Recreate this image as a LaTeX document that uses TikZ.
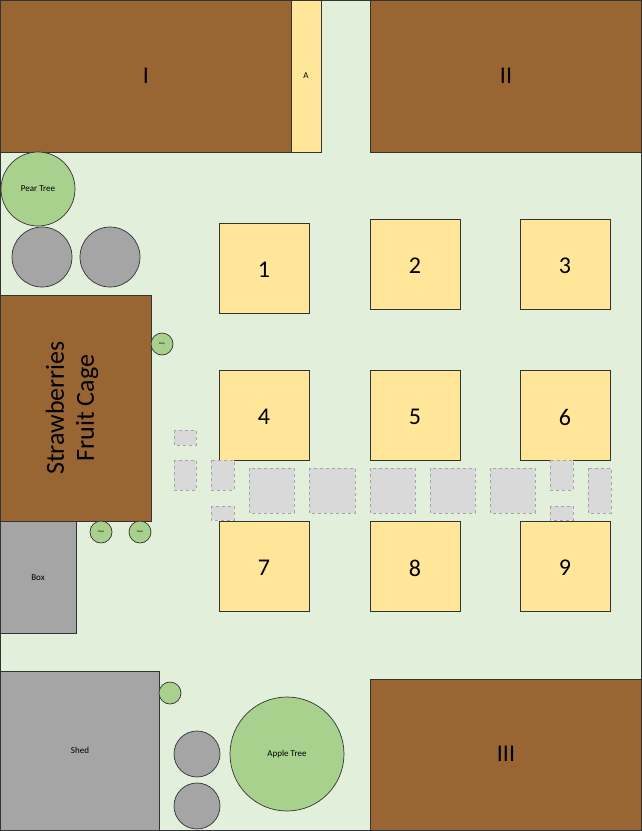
\documentclass[tikz,border=0pt]{standalone}
\usepackage{fontspec}
\setmainfont{Carlito}
\definecolor{bg}{HTML}{E2EFDA}
\definecolor{brn}{HTML}{996633}
\definecolor{yel}{HTML}{FFE699}
\definecolor{grn}{HTML}{A9D18E}
\definecolor{gry}{HTML}{A5A5A5}
\definecolor{lgry}{HTML}{D9D9D9}
\begin{document}
\begin{tikzpicture}[x=1pt,y=-1pt,
  bed/.style={draw=black!80,fill=brn,line width=0.7pt},
  plot/.style={draw=black!80,fill=yel,line width=0.7pt},
  tree/.style={draw=black!80,fill=grn,line width=0.7pt},
  barrel/.style={draw=black!80,fill=gry,line width=0.7pt},
  pad/.style={draw=gray!70,dashed,fill=lgry,line width=0.6pt},
  big/.style={font=\fontsize{24}{26}\selectfont},
  tiny/.style={font=\fontsize{3}{3}\selectfont}]
\useasboundingbox (0,0) rectangle (642,831);
\draw[fill=bg,draw=black!80] (0.5,0.5) rectangle (641.5,830.5);
\draw[bed] (0.5,0.5) rectangle (291,152); \node[big] (bI) at (146,76) {I};
\draw[plot] (291,0.5) rectangle (321,152); \node[font=\small] (bA) at (306,76) {A};
\draw[bed] (370,0.5) rectangle (641.5,152); \node[big] (bII) at (506,76) {II};
\draw[tree] (38,189) circle (37); \node[font=\small] (pear) at (38,189) {Pear Tree};
\draw[barrel] (42,257) circle (30);
\draw[barrel] (110,257) circle (30);
\draw[bed] (0.5,295) rectangle (151,521);
\node[big,rotate=90,align=center,font=\fontsize{26}{30}\selectfont] (straw) at (72,408) {Strawberries\\Fruit Cage};
\draw[tree] (162,344) circle (11); \node[tiny] (rasp) at (162,344) {Rasp};
\draw[tree] (101,532) circle (11); \node[tiny] (hop1) at (101,532) {Hops};
\draw[tree] (140,532) circle (11); \node[tiny] (hop2) at (140,532) {Hops};
\draw[barrel] (0.5,521) rectangle (76,633); \node[font=\small] (box) at (38,578) {Box};
\draw[barrel] (0.5,671) rectangle (159,830.5); \node[font=\small] (shed) at (80,750) {Shed};
\draw[tree] (170,693) circle (11);
\draw[barrel] (197,754) circle (23);
\draw[barrel] (197,806) circle (23);
\draw[tree] (287,754) circle (57); \node[font=\small] (apple) at (287,754) {Apple Tree};
\draw[bed] (370,679) rectangle (641.5,830.5); \node[big] (bIII) at (506,754) {III};
\foreach \x/\y/\n in {219/223/1,370/219/2,520/219/3,219/370/4,370/370/5,520/370/6,219/521/7,370/521/8,520/521/9}{
  \draw[plot] (\x,\y) rectangle ++(90,90);
  \node[big] (p\n) at (\x+45,\y+47) {\n};
}
\foreach \a/\b/\c/\d in {174/430/196/445,174/460/196/490,211/460/234/490,249/468/294/513,309/468/355/513,370/468/415/513,430/468/475/513,490/468/535/513,550/460/573/490,588/468/611/513,211/506/234/520,550/506/573/520}{
  \draw[pad] (\a,\b) rectangle (\c,\d);
}
\end{tikzpicture}
\end{document}
